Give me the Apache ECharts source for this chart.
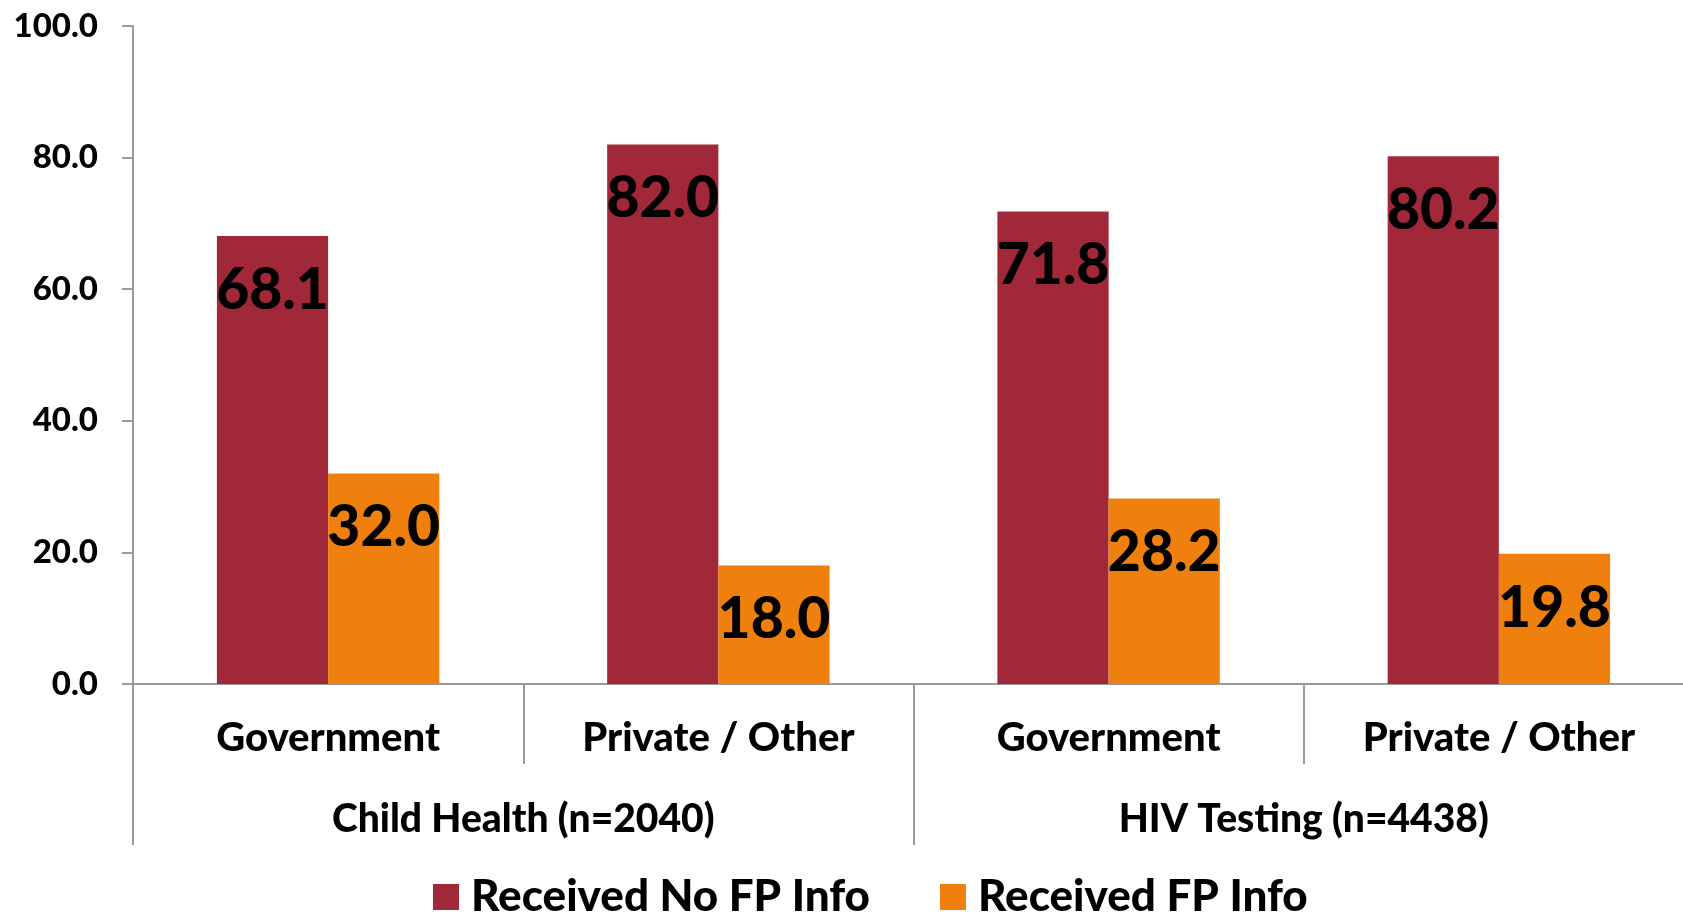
<!DOCTYPE html>
<html><head><meta charset="utf-8">
<script src="https://cdn.jsdelivr.net/npm/echarts@6/dist/echarts.min.js"></script>
<style>html,body{margin:0;padding:0;background:#fff}#c{width:1683px;height:915px}</style>
</head><body><div id="c"></div>
<script>
const categories = ["Government", "Private / Other", "Government", "Private / Other"];
const groups = ["Child Health (n=2040)", "HIV Testing (n=4438)"];
const seriesNames = ["Received No FP Info", "Received FP Info"];
const noFpInfo = [68.1, 82.0, 71.8, 80.2];
const fpInfo = [32.0, 18.0, 28.2, 19.8];
const yTicks = { min: 0, max: 100, interval: 20 };

const FONT = 'Lato';
const FW = 900;
const AX = '#9a9a9a';
const chart = echarts.init(document.getElementById('c'), null, { renderer: 'canvas' });
const labelCfg = {
  show: true, position: 'insideTop', distance: 26,
  color: '#000', fontFamily: FONT, fontWeight: FW, fontSize: 57,
  formatter: p => p.value.toFixed(1)
};
chart.setOption({
  animation: false,
  grid: { left: 133, right: -11, top: 26, bottom: 231, containLabel: false, outerBoundsMode: 'none' },
  legend: {
    left: 428, top: 870, itemWidth: 26, itemHeight: 26, itemGap: 70, icon: 'rect',
    textStyle: { fontFamily: FONT, fontWeight: FW, fontSize: 44, color: '#000', padding: [0, 0, 0, 7] },
    data: seriesNames
  },
  xAxis: [
    {
      type: 'category', data: categories, position: 'bottom',
      axisLine: { show: true, lineStyle: { color: AX, width: 2 } },
      axisTick: { show: true, interval: 0, length: 80, lineStyle: { color: AX, width: 2 } },
      axisLabel: { interval: 0, margin: 34, color: '#000', fontFamily: FONT, fontWeight: FW, fontSize: 40 }
    },
    {
      type: 'category', data: groups, position: 'bottom',
      axisLine: { show: false },
      axisTick: { show: true, interval: 0, length: 161, lineStyle: { color: AX, width: 2 } },
      axisLabel: { interval: 0, margin: 116, color: '#000', fontFamily: FONT, fontWeight: FW, fontSize: 39 }
    }
  ],
  yAxis: {
    type: 'value', min: yTicks.min, max: yTicks.max, interval: yTicks.interval,
    axisLine: { show: true, lineStyle: { color: AX, width: 2 } },
    axisTick: { show: true, length: 11, lineStyle: { color: AX, width: 2 } },
    splitLine: { show: false },
    axisLabel: { margin: 35, color: '#000', fontFamily: FONT, fontWeight: FW, fontSize: 33, formatter: v => v.toFixed(1) }
  },
  series: [
    { name: seriesNames[0], type: 'bar', data: noFpInfo, xAxisIndex: 0, barGap: '0%', barCategoryGap: '43%',
      itemStyle: { color: '#A12838' }, label: labelCfg },
    { name: seriesNames[1], type: 'bar', data: fpInfo, xAxisIndex: 0, barGap: '0%', barCategoryGap: '43%',
      itemStyle: { color: '#EF800D' }, label: labelCfg }
  ]
});
</script></body></html>
